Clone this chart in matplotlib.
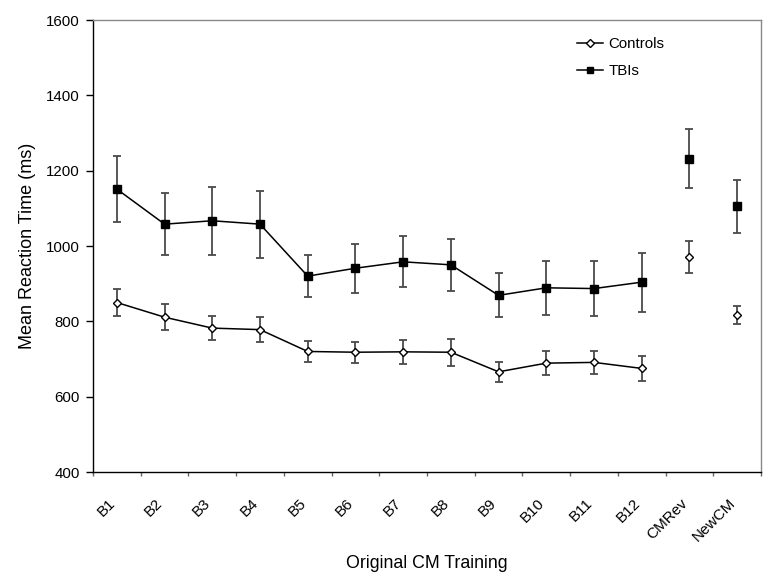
import matplotlib
matplotlib.use("Agg")
import matplotlib.pyplot as plt
import matplotlib.transforms as mtransforms
import numpy as np

categories = ["B1", "B2", "B3", "B4", "B5", "B6", "B7", "B8", "B9", "B10", "B11", "B12", "CMRev", "NewCM"]
controls = [850, 811, 782, 778, 720, 718, 719, 718, 666, 689, 691, 675, 970, 816]
controls_err = [36, 35, 31, 33, 27, 28, 32, 36, 26, 31, 30, 34, 43, 24]
tbis = [1151, 1058, 1067, 1058, 920, 941, 958, 950, 869, 889, 887, 904, 1232, 1105]
tbis_err = [87, 83, 90, 89, 55, 65, 68, 69, 58, 71, 72, 78, 78, 70]
yticks = [400, 600, 800, 1000, 1200, 1400, 1600]
n_train = 12

plt.rcParams['font.family'] = ['Liberation Sans', 'DejaVu Sans']

fig = plt.figure(figsize=(7.75, 5.83), dpi=100)
ax = fig.add_axes([93/775, 1 - 472/583, (761 - 93)/775, (472 - 20)/583])

x = np.arange(len(categories))
err_kw = dict(fmt='none', ecolor='#4a4a4a', elinewidth=1.3, capsize=3.2, capthick=1.3, zorder=2)
ax.errorbar(x, controls, yerr=controls_err, **err_kw)
ax.errorbar(x, tbis, yerr=tbis_err, **err_kw)

ax.plot(x[:n_train], controls[:n_train], color='black', lw=1.1, zorder=3)
ax.plot(x[:n_train], tbis[:n_train], color='black', lw=1.1, zorder=3)
ax.plot(x, controls, ls='none', marker='D', ms=4.3, mfc='white', mec='black', mew=1.0, zorder=4)
ax.plot(x, tbis, ls='none', marker='s', ms=6, mfc='black', mec='black', zorder=4)

h1, = ax.plot([], [], color='black', lw=1.1, marker='D', ms=3.8, mfc='white', mec='black', mew=1.0, label='Controls')
h2, = ax.plot([], [], color='black', lw=1.1, marker='s', ms=5, mfc='black', mec='black', label='TBIs')
ax.legend(handles=[h1, h2], loc='upper left', bbox_to_anchor=(577/775, 1 - 37/583),
          bbox_transform=fig.transFigure, frameon=False, fontsize=10.8,
          handlelength=1.7, handletextpad=0.4, labelspacing=0.85, borderpad=0, borderaxespad=0)

ax.set_xlim(-0.5, len(categories) - 0.5)
ax.set_ylim(400, 1600)
ax.set_yticks(yticks)
ax.set_yticklabels([str(v) for v in yticks], fontsize=10.8)
ax.tick_params(axis='y', direction='out', length=5, width=1, pad=4.5)

ax.set_xticks(x)
ax.set_xticklabels(categories, rotation=45, ha='right', va='center', rotation_mode='anchor', fontsize=11)
ax.tick_params(axis='x', which='major', length=0, pad=21)
ax.set_xticks(np.arange(-0.5, len(categories), 1), minor=True)
ax.tick_params(axis='x', which='minor', direction='out', length=3, width=1, color='#666666')
shift = mtransforms.ScaledTranslation(-4/100, 0, fig.dpi_scale_trans)
for lbl in ax.get_xticklabels():
    lbl.set_transform(lbl.get_transform() + shift)

for s in ax.spines.values():
    s.set_linewidth(1.0)
ax.spines['top'].set_color('#888888')
ax.spines['right'].set_color('#888888')

ax.set_ylabel('Mean Reaction Time (ms)', fontsize=13)
ax.yaxis.set_label_coords(-65/668, 0.5)
ax.yaxis.label.set_va('center')
ax.yaxis.label.set_ha('center')
ax.set_xlabel('Original CM Training', fontsize=12.8)
ax.xaxis.set_label_coords(0.5, -91/452)
ax.xaxis.label.set_va('center')

fig.savefig('out.png', dpi=100)
